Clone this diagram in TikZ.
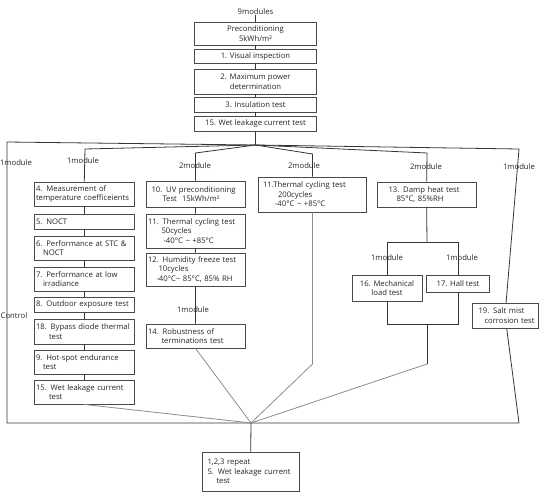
\documentclass[tikz,border=0pt]{standalone}
\usepackage{fontspec}
\setmainfont{Open Sans}
\definecolor{boxline}{HTML}{4A4A4A}
\definecolor{linkdark}{HTML}{353535}
\definecolor{linkgray}{HTML}{8C8C8C}
\definecolor{txt}{HTML}{262626}
\begin{document}
\begin{tikzpicture}[x=1pt,y=-1pt,
  testbox/.style={draw=boxline,line width=0.8pt,fill=white,text=txt,
    font=\fontsize{7.7}{9.6}\selectfont,inner xsep=2pt,inner ysep=1pt},
  midbox/.style={testbox,align=center},
  leftbox/.style={testbox,align=left},
  tag/.style={text=txt,font=\fontsize{7.7}{9}\selectfont,inner sep=0pt},
  link/.style={draw=linkdark,line width=0.8pt},
  faint/.style={draw=linkgray,line width=0.8pt}]
\useasboundingbox (0,0) rectangle (543,493);

\node[tag] (nine) at (255.5,12) {9modules};
\node[midbox,minimum width=122pt,minimum height=23pt] (pre) at (255.5,33.5) {Preconditioning\\5kWh/m²};
\node[midbox,minimum width=122pt,minimum height=14pt] (vis) at (255.5,56) {1. Visual inspection};
\node[midbox,minimum width=122pt,minimum height=25pt] (pmax) at (255.5,81.5) {2. Maximum power\\determination};
\node[midbox,minimum width=122pt,minimum height=15pt] (ins) at (255.5,104.5) {3. Insulation test};
\node[midbox,minimum width=122pt,minimum height=15pt] (wet1) at (255.5,123.5) {15. Wet leakage current test};

\node[leftbox,text width=96pt,minimum height=24pt] (n4) at (84,194) {4. Measurement of\\temperature coefficeients};
\node[leftbox,text width=96pt,minimum height=15pt] (noct) at (84,221.5) {5. NOCT};
\node[leftbox,text width=96pt,minimum height=24pt] (stc) at (84,248) {6. Performance at STC \&\\\hspace*{7pt}NOCT};
\node[leftbox,text width=96pt,minimum height=24pt] (low) at (84,279) {7. Performance at low\\\hspace*{7pt}irradiance};
\node[leftbox,text width=96pt,minimum height=15pt] (outd) at (84,304.5) {8. Outdoor exposure test};
\node[leftbox,text width=96pt,minimum height=25pt] (bypass) at (84,331.5) {18. Bypass diode thermal\\\hspace*{13pt}test};
\node[leftbox,text width=96pt,minimum height=24pt] (hot) at (84,362) {9. Hot-spot endurance\\\hspace*{7pt}test};
\node[leftbox,text width=96pt,minimum height=24pt] (wet2) at (84,392) {15. Wet leakage current\\\hspace*{13pt}test};

\node[leftbox,text width=95pt,minimum height=26pt] (uv) at (195.5,194) {\hspace*{3.5pt}10. UV preconditioning\\\hspace*{14.5pt}Test\ \ 15kWh/m²};
\node[leftbox,text width=95pt,minimum height=34pt] (tc50) at (195.5,231) {11. Thermal cycling test\\\hspace*{13.5pt}50cycles\\\hspace*{15.5pt}-40°C \textasciitilde\ +85°C};
\node[leftbox,text width=95pt,minimum height=33pt] (hf) at (195.5,269.5) {12. Humidity freeze test\\\hspace*{10.5pt}10cycles\\\hspace*{8.5pt}-40°C\textasciitilde\ 85°C, 85\% RH};
\node[leftbox,text width=95pt,minimum height=24pt] (rob) at (195.5,336) {14. Robustness of\\\hspace*{13.5pt}terminations test};

\node[leftbox,text width=104pt,minimum height=35pt] (tc200) at (312.5,194.5) {\hspace*{2.5pt}11.Thermal cycling test\\\hspace*{17.5pt}200cycles\\\hspace*{14.5pt}-40°C \textasciitilde\ +85°C};
\node[leftbox,text width=95pt,minimum height=25pt] (dh) at (426.5,194.5) {\hspace*{9.5pt}13. Damp heat test\\\hspace*{17.5pt}85°C, 85\%RH};
\node[midbox,minimum width=70pt,minimum height=26pt] (ml) at (387,288) {16. Mechanical\\load test};
\node[midbox,minimum width=63pt,minimum height=17pt] (hall) at (458,283.5) {17. Hall test};
\node[leftbox,text width=62pt,minimum height=25pt] (salt) at (505,315.5) {\hspace*{4.5pt}19. Salt mist\\\hspace*{10.5pt}corrosion test};
\node[leftbox,text width=93pt,minimum height=39pt] (fin) at (250.5,471.5) {\hspace*{3.5pt}1,2,3 repeat\\\hspace*{3.5pt}5. Wet leakage current\\\hspace*{12.5pt}test};

\coordinate (top) at (255.5,145);
\coordinate (c1) at (7,142);
\coordinate (c2) at (85,149);
\coordinate (c3) at (195.5,153);
\coordinate (c4) at (312.5,154);
\coordinate (c5) at (427,153);
\coordinate (c6) at (519,149);
\coordinate (fl) at (7,423);
\coordinate (fr) at (519,423);
\coordinate (bot) at (251,423);
\coordinate (c4b) at (312.5,364);
\coordinate (s5t) at (427,242);
\coordinate (s5l) at (387,242);
\coordinate (s5r) at (458,242);
\coordinate (s5lb) at (387,324);
\coordinate (s5rb) at (458,324);
\coordinate (s5b) at (427,324);
\coordinate (c5b) at (427,364);

\draw[link] (nine.south) -- (pre);
\draw[link] (pre) -- (vis) -- (pmax) -- (ins) -- (wet1) -- (top);
\draw[link] (top) -- (c1) -- (fl) -- (fr);
\draw[link] (top) -- (c6) -- (salt) -- (fr);
\draw[link] (top) -- (c2) -- (n4);
\draw[link] (n4) -- (noct) -- (stc) -- (low) -- (outd) -- (bypass) -- (hot) -- (wet2);
\draw[faint] (wet2.south) -- (bot);
\draw[link] (top) -- (c3) -- (uv) -- (tc50) -- (hf) -- (rob);
\draw[faint] (rob.south) -- (bot);
\draw[link] (top) -- (c4) -- (tc200);
\draw[faint] (tc200) -- (c4b) -- (bot);
\draw[link] (top) -- (c5) -- (dh) -- (s5t);
\draw[link] (s5l) -- (s5r);
\draw[link] (s5l) -- (ml) -- (s5lb) -- (s5rb) -- (hall) -- (s5r);
\draw[link] (s5b) -- (c5b);
\draw[faint] (c5b) -- (bot);
\draw[link] (bot) -- (fin);

\node[tag] (mleft) at (16,163) {1module};
\node[tag] (m2) at (83,161) {1module};
\node[tag] (m3) at (195,166) {2module};
\node[tag] (m4) at (304,166) {2module};
\node[tag] (m5) at (426,167) {2module};
\node[tag] (m6) at (519,167) {1module};
\node[tag] (m3b) at (193,310) {1module};
\node[tag] (m5a) at (387,258) {1module};
\node[tag] (m5b) at (462,258) {1module};
\node[tag] (ctrl) at (14,316) {Control};
\end{tikzpicture}
\end{document}
